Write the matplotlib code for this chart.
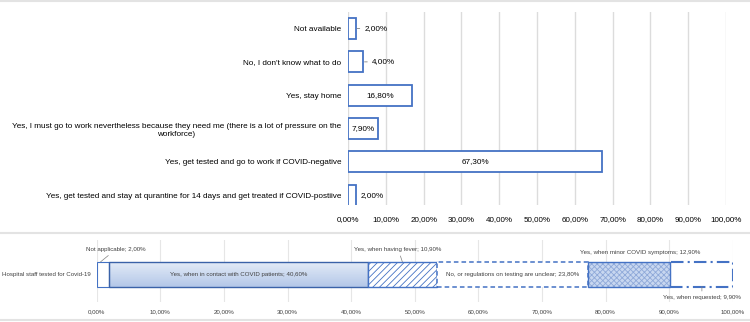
import matplotlib.pyplot as plt
import numpy as np
from matplotlib.lines import Line2D
from matplotlib.colors import LinearSegmentedColormap

plt.rcParams['font.family'] = ['Liberation Sans', 'DejaVu Sans']
plt.rcParams['hatch.linewidth'] = 0.6

# top chart: answers and shares
answers = [
    "Not available",
    "No, I don't know what to do",
    "Yes, stay home",
    "Yes, I must go to work nevertheless because they need me (there is a lot of pressure on the\nworkforce)",
    "Yes, get tested and go to work if COVID-negative",
    "Yes, get tested and stay at qurantine for 14 days and get treated if COVID-postiive",
]
shares = [2.0, 4.0, 16.8, 7.9, 67.3, 2.0]
share_labels = ["2,00%", "4,00%", "16,80%", "7,90%", "67,30%", "2,00%"]

# bottom chart: one stacked row
test_row = "Hospital staff tested for Covid-19"
test_cats = ["Not applicable",
             "Yes, when in contact with COVID patients",
             "Yes, when having fever",
             "No, or regulations on testing are unclear",
             "Yes, when minor COVID symptoms",
             "Yes, when requested"]
test_vals = [2.0, 40.6, 10.9, 23.8, 12.9, 9.9]
test_labels = ["2,00%", "40,60%", "10,90%", "23,80%", "12,90%", "9,90%"]

ticks = np.arange(0, 101, 10)
tick_labels = ["%d,00%%" % t for t in ticks]

blue = '#4472c4'
grid_c = '#dcdcdc'

fig = plt.figure(figsize=(7.5, 3.22), dpi=100)

# ---- top panel ----
ax = fig.add_axes([0.464, 0.363, 0.504, 0.600])
y = np.arange(len(answers))
ax.barh(y, shares, height=0.63, color='white', edgecolor=blue, linewidth=1.3, zorder=3)
ax.set_xlim(0, 100)
ax.set_ylim(5.3, -0.5)
ax.set_xticks(ticks)
ax.set_xticklabels(tick_labels, fontsize=5.8)
ax.set_yticks(y)
ax.set_yticklabels(answers, fontsize=5.9, multialignment='center')
ax.tick_params(axis='x', length=0, pad=8)
ax.tick_params(axis='y', length=0, pad=5)
ax.grid(axis='x', color=grid_c, linewidth=1.0)
ax.set_axisbelow(True)
for s in ax.spines.values():
    s.set_visible(False)

for i, (v, lab) in enumerate(zip(shares, share_labels)):
    if i in (0, 1):
        ax.annotate(lab, xy=(v, i), xytext=(6.5, 0), textcoords='offset points',
                    ha='left', va='center', fontsize=5.9, weight='medium',
                    arrowprops=dict(arrowstyle='-', color='#808080', lw=0.6,
                                    shrinkA=1.5, shrinkB=1))
    elif i == 5:
        ax.annotate(lab, xy=(v, i), xytext=(3.5, 0), textcoords='offset points',
                    ha='left', va='center', fontsize=5.9, weight='medium')
    else:
        ax.text(v / 2, i, lab, ha='center', va='center', fontsize=5.9, weight='medium')

# ---- bottom panel ----
ax2 = fig.add_axes([0.129, 0.062, 0.848, 0.192])
lefts = np.concatenate([[0], np.cumsum(test_vals)[:-1]])
h = 0.40
txt_c = '#404040'
fs = 4.4

# not applicable
ax2.barh(0, test_vals[0], left=lefts[0], height=h, color='white',
         edgecolor=blue, linewidth=0.8, zorder=3)
# contact with patients: gradient fill
cmap = LinearSegmentedColormap.from_list('g', ['#e3ebf7', '#b3c7e8'])
grad = np.linspace(0, 1, 64).reshape(-1, 1)
ax2.imshow(grad, extent=(lefts[1], lefts[1] + test_vals[1], -h / 2, h / 2),
           aspect='auto', cmap=cmap, zorder=2)
ax2.barh(0, test_vals[1], left=lefts[1], height=h, fill=False,
         edgecolor='#3a62a8', linewidth=1.0, zorder=3)
# fever: hatched
ax2.barh(0, test_vals[2], left=lefts[2], height=h, color='white',
         edgecolor=blue, hatch='/////', linewidth=1.0, zorder=3)
# unclear: dashed
ax2.barh(0, test_vals[3], left=lefts[3], height=h, color='white',
         edgecolor=blue, linestyle=(0, (3, 2)), linewidth=1.1, zorder=3)
# minor symptoms: dotted texture
ax2.barh(0, test_vals[4], left=lefts[4], height=h, color='#c8d7f0',
         edgecolor='#8fa9d9', hatch='xxxxxx', linewidth=0, zorder=3)
ax2.barh(0, test_vals[4], left=lefts[4], height=h, fill=False,
         edgecolor=blue, linewidth=1.0, zorder=4)
# requested: dash-dot
ax2.barh(0, test_vals[5], left=lefts[5], height=h, color='white',
         edgecolor=blue, linestyle=(0, (6, 2, 1, 2)), linewidth=1.5, zorder=2)

ax2.set_xlim(0, 100)
ax2.set_ylim(-0.45, 0.55)
ax2.set_xticks(ticks)
ax2.set_xticklabels(tick_labels, fontsize=fs, color=txt_c)
ax2.set_yticks([0])
ax2.set_yticklabels([test_row], fontsize=fs, color=txt_c)
ax2.tick_params(axis='x', length=0, pad=5)
ax2.tick_params(axis='y', length=0, pad=4)
ax2.grid(axis='x', color='#e6e6e6', linewidth=0.8)
ax2.set_axisbelow(True)
for s in ax2.spines.values():
    s.set_visible(False)

for i in (1, 3):
    ax2.text(lefts[i] + test_vals[i] / 2, 0, "%s; %s" % (test_cats[i], test_labels[i]),
             ha='center', va='center', fontsize=fs, color=txt_c, zorder=5)

leader = dict(arrowstyle='-', color='#808080', lw=0.5, shrinkA=1, shrinkB=0)
ax2.annotate("%s; %s" % (test_cats[0], test_labels[0]),
             xy=(lefts[0] + test_vals[0] * 0.3, h / 2), xytext=(11, 9),
             textcoords='offset points', ha='center', va='center',
             fontsize=fs, color=txt_c, arrowprops=leader)
ax2.annotate("%s; %s" % (test_cats[2], test_labels[2]),
             xy=(lefts[2] + test_vals[2] / 2, h / 2), xytext=(-3, 9),
             textcoords='offset points', ha='center', va='center',
             fontsize=fs, color=txt_c, arrowprops=leader)
ax2.annotate("%s; %s" % (test_cats[4], test_labels[4]),
             xy=(lefts[4] + test_vals[4] / 2, h / 2), xytext=(8, 7),
             textcoords='offset points', ha='center', va='center',
             fontsize=fs, color=txt_c)
ax2.annotate("%s; %s" % (test_cats[5], test_labels[5]),
             xy=(lefts[5] + test_vals[5] / 2, -h / 2), xytext=(0, -8),
             textcoords='offset points', ha='center', va='center',
             fontsize=fs, color=txt_c, arrowprops=leader)

# panel separators
for yy in (0.996, 0.277, 0.005):
    fig.add_artist(Line2D([0, 1], [yy, yy], color='#e3e3e3', lw=1.5))

fig.savefig('out.png', dpi=100)
